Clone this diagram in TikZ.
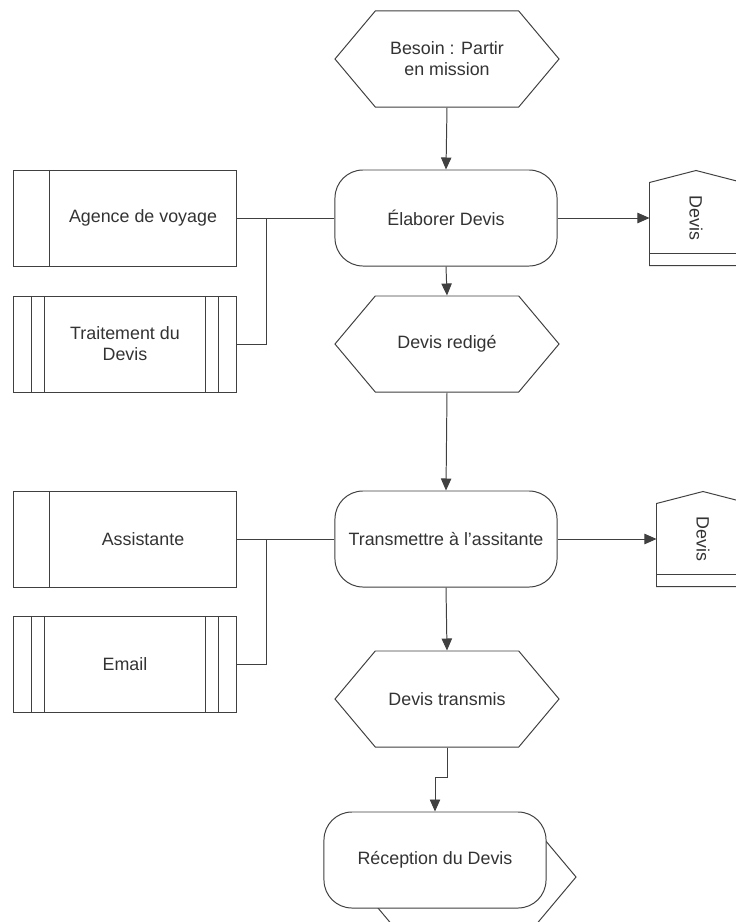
\documentclass[tikz,border=0pt]{standalone}
\usepackage{fontspec}
\setmainfont{Liberation Sans}
\usetikzlibrary{shapes.symbols,arrows.meta}

\tikzset{
  base/.style={draw=black!75, line width=0.7pt, text=black!80, font=\fontsize{12.7pt}{15pt}\selectfont, align=center},
  event/.style={base, fill=white, signal, signal to=east and west, signal pointer angle=100,
    minimum width=5.6cm, minimum height=2.4cm, inner sep=2pt},
  func/.style={base, fill=white, rectangle, rounded corners=0.7cm, minimum width=5.55cm, minimum height=2.4cm},
  orgunit/.style={base, rectangle, minimum width=5.55cm, minimum height=2.4cm,
    execute at begin node={\hspace*{0.9cm}},
    path picture={\draw[black!75, line width=0.7pt] ([xshift=0.9cm]path picture bounding box.north west) -- ([xshift=0.9cm]path picture bounding box.south west);}},
  system/.style={base, rectangle, minimum width=5.55cm, minimum height=2.4cm,
    path picture={\foreach \d in {0.45,0.775}{
      \draw[black!75, line width=0.7pt] ([xshift=\d cm]path picture bounding box.north west) -- ([xshift=\d cm]path picture bounding box.south west);
      \draw[black!75, line width=0.7pt] ([xshift=-\d cm]path picture bounding box.north east) -- ([xshift=-\d cm]path picture bounding box.south east);}}},
  docbox/.style={base, draw=none, rectangle, minimum width=2.3cm, minimum height=2.35cm, inner sep=0pt},
  docline/.style={draw=black!75, line width=0.7pt},
  flow/.style={draw=black!75, line width=0.7pt, -{Stealth[length=0.3cm,width=0.26cm,inset=0pt]}},
  link/.style={draw=black!75, line width=0.7pt},
}

\begin{document}
\begin{tikzpicture}[x=0.025cm,y=-0.025cm]
  \useasboundingbox (0,0) rectangle (736,922);
  \clip (0,0) rectangle (736,922);

  % events and functions
  \node[event] (besoin) at (447,59) {Besoin : Partir\\en mission};
  \node[func] (elab) at (446,218) {\'Elaborer Devis};
  \node[event] (redige) at (447,344) {Devis redig\'e};
  \node[func] (transm) at (446,539) {Transmettre \`a l'assitante};
  \node[event] (transmis) at (447,699) {Devis transmis};
  \node[event] (suite) at (464,877) {};
  \node[func] (recep) at (435,860) {R\'eception du Devis};

  % roles and systems
  \node[orgunit] (agence) at (125,218) {Agence de voyage};
  \node[system] (traitement) at (125,344) {Traitement du\\Devis};
  \node[orgunit] (assist) at (125,539) {Assistante};
  \node[system] (email) at (125,664) {Email};

  % documents
  \node[docbox] (devA) at (696,218) {\rotatebox{-90}{Devis}};
  \draw[docline] (devA.south west) -- ([yshift=-0.3cm]devA.north west) -- (devA.north)
    -- ([yshift=-0.3cm]devA.north east) -- (devA.south east) -- cycle;
  \draw[docline] ([yshift=0.3cm]devA.south west) -- ([yshift=0.3cm]devA.south east);
  \node[docbox] (devB) at (703,539) {\rotatebox{-90}{Devis}};
  \draw[docline] (devB.south west) -- ([yshift=-0.3cm]devB.north west) -- (devB.north)
    -- ([yshift=-0.3cm]devB.north east) -- (devB.south east) -- cycle;
  \draw[docline] ([yshift=0.3cm]devB.south west) -- ([yshift=0.3cm]devB.south east);

  % flow
  \draw[flow] (besoin.south) -- (elab.north);
  \draw[flow] (elab.south) -- (redige.north);
  \draw[flow] (redige.south) -- (transm.north);
  \draw[flow] (transm.south) -- (transmis.north);
  \draw[flow] (transmis.south) -- ++(0,30) -| (recep.north);
  \draw[flow] (elab.east) -- (devA.west);
  \draw[flow] (transm.east) -- (devB.west);

  % links
  \draw[link] (elab.west) -- (agence.east);
  \draw[link] (traitement.east) -- ++(30,0) |- (elab.west);
  \draw[link] (transm.west) -- (assist.east);
  \draw[link] (email.east) -- ++(30,0) |- (transm.west);
\end{tikzpicture}
\end{document}
